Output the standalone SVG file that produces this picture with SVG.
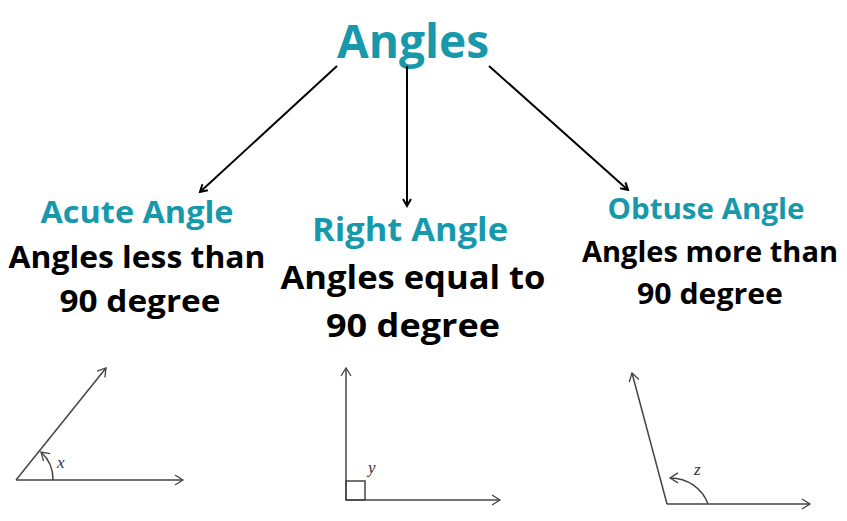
<svg xmlns="http://www.w3.org/2000/svg" width="847" height="521" viewBox="0 0 847 521">
<defs>
<marker id="ah" markerWidth="10" markerHeight="10" refX="8" refY="5" orient="auto" markerUnits="userSpaceOnUse"><path d="M1,1 L8,5 L1,9" fill="none" stroke="#000" stroke-width="2"/></marker>
<marker id="sh" markerWidth="12" markerHeight="12" refX="10" refY="6" orient="auto" markerUnits="userSpaceOnUse"><path d="M2,1 L10,6 L2,11" fill="none" stroke="#444" stroke-width="1.3"/></marker>
</defs>
<style>
.t{font-family:"Open Sans","DejaVu Sans",sans-serif;font-weight:700;fill:#1799ab;text-anchor:middle}
.b{font-family:"Open Sans","DejaVu Sans",sans-serif;font-weight:700;fill:#000;text-anchor:middle}
.c{stroke:#000;stroke-width:2;fill:none;marker-end:url(#ah)}
.g{stroke:#444;stroke-width:1.5;fill:none}
.ga{stroke:#444;stroke-width:1.5;fill:none;marker-end:url(#sh)}
.v{font-family:"Liberation Serif",serif;font-style:italic;font-size:17px;fill:#333}
</style>
<rect width="847" height="521" fill="#fff"/>
<g id="title"><text class="t" x="413" y="58" font-size="46">Angles</text></g>
<g id="connectors">
<line class="c" x1="337" y1="66" x2="200" y2="192"/>
<line class="c" x1="407" y1="66" x2="407" y2="206"/>
<line class="c" x1="489" y1="66" x2="628" y2="190"/>
</g>
<g id="acute">
<text class="t" x="137" y="223" font-size="30" textLength="193" lengthAdjust="spacingAndGlyphs">Acute Angle</text>
<text class="b" x="137" y="268" font-size="30" textLength="257" lengthAdjust="spacingAndGlyphs">Angles less than</text>
<text class="b" x="140" y="312" font-size="30" textLength="161" lengthAdjust="spacingAndGlyphs">90 degree</text>
<line class="ga" x1="16" y1="480" x2="183" y2="480"/>
<line class="ga" x1="16" y1="480" x2="106" y2="368"/>
<path class="ga" d="M53,480 A37,37 0 0 0 41,452"/>
<text class="v" x="57" y="468">x</text>
</g>
<g id="right">
<text class="t" x="410" y="241" font-size="33" textLength="196" lengthAdjust="spacingAndGlyphs">Right Angle</text>
<text class="b" x="413" y="289" font-size="32" textLength="265" lengthAdjust="spacingAndGlyphs">Angles equal to</text>
<text class="b" x="413" y="337" font-size="32" textLength="174" lengthAdjust="spacingAndGlyphs">90 degree</text>
<line class="ga" x1="346" y1="500" x2="346" y2="368"/>
<line class="ga" x1="346" y1="500" x2="500" y2="500"/>
<rect class="g" x="346" y="481" width="19" height="19"/>
<text class="v" x="368" y="473">y</text>
</g>
<g id="obtuse">
<text class="t" x="706" y="219" font-size="28" textLength="197" lengthAdjust="spacingAndGlyphs">Obtuse Angle</text>
<text class="b" x="710" y="262" font-size="28" textLength="256" lengthAdjust="spacingAndGlyphs">Angles more than</text>
<text class="b" x="710" y="304" font-size="28" textLength="146" lengthAdjust="spacingAndGlyphs">90 degree</text>
<line class="ga" x1="667" y1="504" x2="632" y2="373"/>
<line class="ga" x1="667" y1="504" x2="810" y2="504"/>
<path class="ga" d="M708,504 A40,40 0 0 0 670,478"/>
<text class="v" x="694" y="475">z</text>
</g>
</svg>
